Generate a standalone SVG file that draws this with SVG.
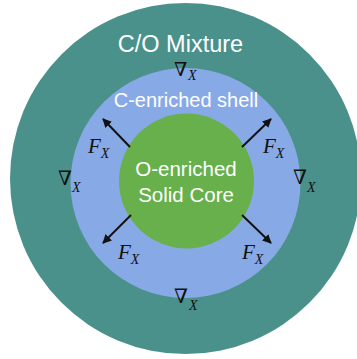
<svg xmlns="http://www.w3.org/2000/svg" width="357" height="359" viewBox="0 0 357 359">
  <style>
    .label { font-family: "Liberation Sans", Arial, sans-serif; fill: #ffffff; text-anchor: middle; }
    .math { font-family: "Liberation Serif", "Times New Roman", serif; font-style: italic; fill: #111111; }
    .nabla { font-family: "DejaVu Serif", serif; fill: #111111; }
    .arrow { stroke: #111111; stroke-width: 2; fill: none; marker-end: url(#head); }
  </style>
  <defs>
    <marker id="head" viewBox="0 0 10 10" refX="9" refY="5" markerWidth="4.5" markerHeight="4.5" orient="auto" markerUnits="strokeWidth">
      <path d="M0,0 L10,5 L0,10 z" fill="#111111"/>
    </marker>
  </defs>
  <rect width="357" height="359" fill="#ffffff"/>

  <!-- outer mixture region -->
  <g id="mixture">
    <circle cx="185.5" cy="178.5" r="175.5" fill="#4a918b"/>
    <text class="label" x="180.5" y="52" font-size="23.5">C/O Mixture</text>
  </g>

  <!-- carbon-enriched shell -->
  <g id="shell">
    <circle cx="185.5" cy="183" r="115" fill="#87aae6"/>
    <text class="label" x="186" y="107" font-size="20">C-enriched shell</text>
  </g>

  <!-- oxygen-enriched solid core -->
  <g id="core">
    <circle cx="186.5" cy="181" r="67.5" fill="#67b04b"/>
    <text class="label" x="186" y="176" font-size="20.5">O-enriched</text>
    <text class="label" x="186" y="202" font-size="20.5">Solid Core</text>
  </g>

  <!-- force arrows pointing outward from the core -->
  <g id="connectors">
    <line class="arrow" x1="130" y1="147" x2="103" y2="119"/>
    <line class="arrow" x1="242" y1="147" x2="271" y2="119"/>
    <line class="arrow" x1="131" y1="215" x2="103" y2="243"/>
    <line class="arrow" x1="242" y1="215" x2="271" y2="243"/>
  </g>

  <!-- force labels -->
  <g id="force-labels">
    <text class="math" x="88" y="153" font-size="21">F<tspan font-size="14" dy="5">X</tspan></text>
    <text class="math" x="263" y="153" font-size="21">F<tspan font-size="14" dy="5">X</tspan></text>
    <text class="math" x="118" y="259" font-size="21">F<tspan font-size="14" dy="5">X</tspan></text>
    <text class="math" x="242" y="259" font-size="21">F<tspan font-size="14" dy="5">X</tspan></text>
  </g>

  <!-- gradient labels at the shell boundary -->
  <g id="gradient-labels">
    <text class="nabla" x="174" y="75.5" font-size="19">∇</text>
    <text class="math" x="188" y="80" font-size="14">X</text>
    <text class="nabla" x="58" y="185" font-size="20">∇</text>
    <text class="math" x="72" y="192" font-size="14">X</text>
    <text class="nabla" x="293" y="184" font-size="20">∇</text>
    <text class="math" x="307" y="192" font-size="14">X</text>
    <text class="nabla" x="174" y="303" font-size="20">∇</text>
    <text class="math" x="189" y="310" font-size="14">X</text>
  </g>
</svg>
